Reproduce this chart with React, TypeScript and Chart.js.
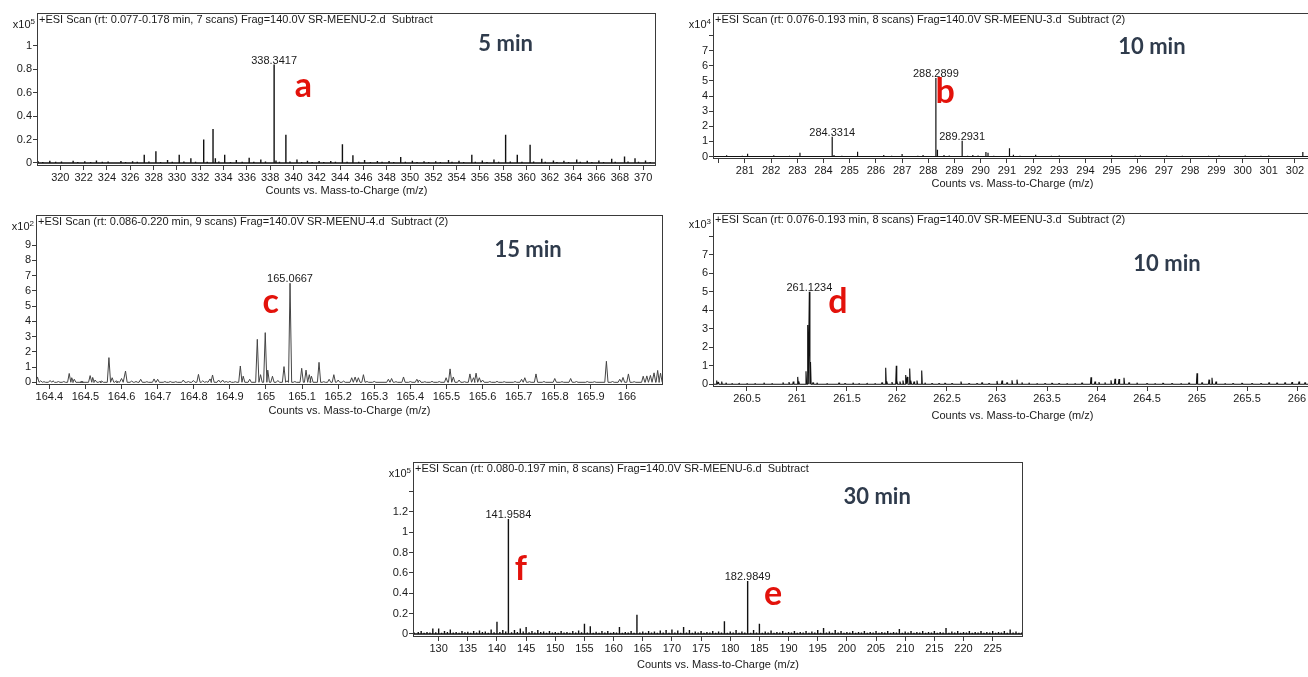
import React, { useEffect, useRef } from 'react';
import { Chart, registerables } from 'chart.js';

Chart.register(...registerables);

type Pair = [number, number];

const NARROW = '"Liberation Sans Narrow", "Arial Narrow", sans-serif';
const HEAD = 'Lato, "Open Sans", sans-serif';
const AXIS_TITLE = 'Counts vs. Mass-to-Charge (m/z)';

// ================= Panel a (5 min, x10^5) =================
const aHeader = '+ESI Scan (rt: 0.077-0.178 min, 7 scans) Frag=140.0V SR-MEENU-2.d  Subtract';
const aXTicks = [320, 322, 324, 326, 328, 330, 332, 334, 336, 338, 340, 342, 344, 346, 348, 350, 352, 354, 356, 358, 360, 362, 364, 366, 368, 370];
const aYTicks = [0, 0.2, 0.4, 0.6, 0.8, 1];
const aYLabels = ['0', '0.2', '0.4', '0.6', '0.8', '1'];
const aPeaks: Pair[] = [
  [327.2, 0.07], [328.2, 0.1], [329.2, 0.025], [330.2, 0.07], [331.2, 0.04], [332.3, 0.2], [333.1, 0.29], [333.3, 0.04],
  [334.1, 0.07], [335.1, 0.025], [336.2, 0.045], [337.2, 0.03], [338.3417, 0.84], [338.5, 0.02], [339.35, 0.24], [340.3, 0.03],
  [344.2, 0.16], [345.1, 0.065], [346.1, 0.025], [349.2, 0.05], [353.3, 0.025], [355.3, 0.07], [357.2, 0.03], [358.2, 0.24],
  [359.2, 0.07], [360.3, 0.155], [361.3, 0.035], [362.3, 0.02], [364.3, 0.03], [367.3, 0.035], [368.4, 0.055], [369.3, 0.04],
];
const aNoise: Pair[] = [
  [318.1, 0.015], [318.5, 0.008], [319.1, 0.018], [319.6, 0.01], [320.1, 0.012], [320.6, 0.007], [321.1, 0.018], [321.5, 0.009],
  [322.1, 0.014], [322.6, 0.008], [323.1, 0.02], [323.6, 0.01], [324.1, 0.013], [324.6, 0.007], [325.2, 0.016], [325.6, 0.009],
  [326.2, 0.014], [326.6, 0.01], [327.6, 0.012], [328.6, 0.009], [329.6, 0.01], [330.6, 0.012], [331.6, 0.011], [332.6, 0.01],
  [333.6, 0.012], [334.6, 0.009], [335.6, 0.011], [336.6, 0.01], [337.6, 0.012], [338.8, 0.01], [339.7, 0.012], [340.7, 0.009],
  [341.2, 0.018], [341.6, 0.009], [342.2, 0.016], [342.6, 0.008], [343.2, 0.017], [343.6, 0.01], [344.6, 0.011], [345.6, 0.01],
  [346.6, 0.009], [347.2, 0.016], [347.6, 0.01], [348.2, 0.017], [348.6, 0.008], [349.6, 0.01], [350.2, 0.018], [350.6, 0.009],
  [351.2, 0.014], [351.6, 0.008], [352.2, 0.015], [352.6, 0.009], [353.6, 0.01], [354.2, 0.018], [354.6, 0.009], [355.6, 0.011],
  [356.2, 0.02], [356.6, 0.009], [357.6, 0.01], [358.6, 0.012], [359.6, 0.01], [360.6, 0.012], [361.6, 0.01], [362.6, 0.009],
  [363.2, 0.018], [363.6, 0.009], [364.6, 0.01], [365.2, 0.018], [365.6, 0.008], [366.2, 0.02], [366.6, 0.009], [367.6, 0.011],
  [368.7, 0.012], [369.6, 0.01], [370.2, 0.02], [370.6, 0.009],
];
const aLabelled: Pair[] = [[338.3417, 0.84]];

// ================= Panel b (10 min, x10^4) =================
const bHeader = '+ESI Scan (rt: 0.076-0.193 min, 8 scans) Frag=140.0V SR-MEENU-3.d  Subtract (2)';
const bXTicks = [280, 281, 282, 283, 284, 285, 286, 287, 288, 289, 290, 291, 292, 293, 294, 295, 296, 297, 298, 299, 300, 301, 302];
const bXLabels = ['', '281', '282', '283', '284', '285', '286', '287', '288', '289', '290', '291', '292', '293', '294', '295', '296', '297', '298', '299', '300', '301', '302'];
const bYTicks = [0, 1, 2, 3, 4, 5, 6, 7, 8];
const bYLabels = ['0', '1', '2', '3', '4', '5', '6', '7', ''];
const bPeaks: Pair[] = [
  [280.3, 0.08], [281.1, 0.18], [282.1, 0.08], [283.1, 0.25], [284.3314, 1.3], [284.4, 0.1], [285.3, 0.32], [286.3, 0.1],
  [287.0, 0.16], [287.8, 0.1], [288.2899, 5.2], [288.35, 0.45], [288.6, 0.1], [289.2931, 1.05], [289.7, 0.1], [290.2, 0.3],
  [290.28, 0.25], [291.1, 0.55], [291.25, 0.12], [292.1, 0.12], [293.0, 0.06], [295.0, 0.08], [296.1, 0.07], [297.1, 0.07],
  [299.1, 0.07], [300.1, 0.07], [301.0, 0.06], [302.3, 0.3],
];
const bNoise: Pair[] = [
  [279.9, 0.04], [280.6, 0.03], [280.9, 0.05], [281.4, 0.03], [281.7, 0.04], [282.4, 0.03], [282.7, 0.05], [283.4, 0.03],
  [283.7, 0.04], [284.0, 0.03], [284.7, 0.05], [285.0, 0.03], [285.6, 0.04], [285.9, 0.03], [286.6, 0.05], [286.8, 0.04],
  [287.3, 0.03], [287.6, 0.05], [288.0, 0.04], [288.8, 0.06], [289.0, 0.04], [289.5, 0.05], [289.9, 0.06], [290.5, 0.05],
  [290.8, 0.04], [291.5, 0.05], [291.8, 0.04], [292.4, 0.03], [292.7, 0.05], [293.3, 0.03], [293.6, 0.04], [294.0, 0.03],
  [294.4, 0.04], [294.7, 0.03], [295.3, 0.04], [295.6, 0.03], [295.9, 0.05], [296.4, 0.03], [296.7, 0.04], [297.4, 0.03],
  [297.7, 0.05], [298.0, 0.03], [298.4, 0.04], [298.7, 0.05], [299.4, 0.03], [299.7, 0.04], [300.4, 0.03], [300.7, 0.05],
  [301.3, 0.03], [301.6, 0.04], [301.9, 0.03], [302.6, 0.04],
];
const bLabelled: Pair[] = [[288.2899, 5.2], [284.3314, 1.3], [289.2931, 1.05]];

// ================= Panel c (15 min, x10^2) =================
const cHeader = '+ESI Scan (rt: 0.086-0.220 min, 9 scans) Frag=140.0V SR-MEENU-4.d  Subtract (2)';
const cXTicks = [164.4, 164.5, 164.6, 164.7, 164.8, 164.9, 165, 165.1, 165.2, 165.3, 165.4, 165.5, 165.6, 165.7, 165.8, 165.9, 166];
const cYTicks = [0, 1, 2, 3, 4, 5, 6, 7, 8, 9];
const cYLabels = ['0', '1', '2', '3', '4', '5', '6', '7', '8', '9'];
const cPeaks: Pair[] = [
  [164.367, 0.35], [164.376, 0.1], [164.402, 0.12], [164.41, 0.1], [164.44, 0.05], [164.455, 0.58], [164.462, 0.3], [164.469, 0.2],
  [164.49, 0.05], [164.513, 0.44], [164.52, 0.32], [164.527, 0.15], [164.545, 0.08], [164.565, 1.62], [164.574, 0.3], [164.585, 0.1],
  [164.6, 0.25], [164.611, 0.74], [164.628, 0.08], [164.653, 0.2], [164.69, 0.22], [164.7, 0.2], [164.735, 0.05], [164.771, 0.15],
  [164.799, 0.12], [164.813, 0.52], [164.825, 0.1], [164.845, 0.22], [164.852, 0.48], [164.869, 0.15], [164.88, 0.15], [164.9, 0.06],
  [164.929, 1.07], [164.937, 0.4], [164.955, 0.2], [164.976, 2.82], [164.985, 0.5], [164.998, 3.26], [165.005, 0.8], [165.018, 0.4],
  [165.033, 0.12], [165.05, 1.03], [165.058, 0.1], [165.0667, 6.5], [165.099, 0.92], [165.111, 0.8], [165.12, 0.5], [165.126, 0.4],
  [165.147, 1.31], [165.175, 0.2], [165.188, 0.5], [165.2, 0.15], [165.215, 0.08], [165.2375, 0.3], [165.247, 0.35], [165.256, 0.3],
  [165.27, 0.5], [165.3, 0.06], [165.339, 0.2], [165.348, 0.25], [165.381, 0.35], [165.418, 0.2], [165.425, 0.15], [165.46, 0.06],
  [165.499, 0.3], [165.51, 0.88], [165.519, 0.35], [165.535, 0.15], [165.565, 0.55], [165.575, 0.3], [165.582, 0.6], [165.591, 0.3],
  [165.6, 0.15], [165.64, 0.06], [165.708, 0.2], [165.717, 0.3], [165.748, 0.55], [165.8, 0.25], [165.844, 0.25], [165.89, 0.05],
  [165.943, 1.38], [165.98, 0.2], [165.989, 0.32], [166.004, 0.55], [166.045, 0.4], [166.055, 0.42], [166.065, 0.45], [166.075, 0.62],
  [166.085, 0.78], [166.093, 0.6],
];
const cNoise: Pair[] = [
  [164.385, 0.04], [164.425, 0.05], [164.49, 0.04], [164.54, 0.05], [164.59, 0.04], [164.64, 0.05], [164.67, 0.04], [164.72, 0.05],
  [164.75, 0.04], [164.785, 0.05], [164.835, 0.04], [164.89, 0.05], [164.915, 0.04], [165.08, 0.05], [165.16, 0.04], [165.28, 0.05],
  [165.36, 0.04], [165.4, 0.05], [165.44, 0.04], [165.48, 0.05], [165.55, 0.04], [165.62, 0.05], [165.66, 0.04], [165.69, 0.05],
  [165.73, 0.04], [165.77, 0.05], [165.82, 0.04], [165.86, 0.05], [165.91, 0.04], [165.96, 0.05], [166.02, 0.04],
];
const cLabelled: Pair[] = [[165.0667, 6.5]];

// ================= Panel d (10 min, x10^3) =================
const dHeader = '+ESI Scan (rt: 0.076-0.193 min, 8 scans) Frag=140.0V SR-MEENU-3.d  Subtract (2)';
const dXTicks = [260.5, 261, 261.5, 262, 262.5, 263, 263.5, 264, 264.5, 265, 265.5, 266];
const dYTicks = [0, 1, 2, 3, 4, 5, 6, 7, 8];
const dYLabels = ['0', '1', '2', '3', '4', '5', '6', '7', ''];
const dPeaks: Pair[] = [
  [260.197, 0.2], [260.215, 0.12], [260.247, 0.15], [260.29, 0.08], [260.35, 0.06], [260.42, 0.07], [260.5, 0.05], [260.58, 0.06],
  [260.67, 0.08], [260.75, 0.05], [260.86, 0.1], [260.92, 0.12], [260.963, 0.15], [261.007, 0.4], [261.02, 0.15], [261.09, 0.7],
  [261.107, 3.2], [261.1234, 5.0], [261.135, 1.2], [261.16, 0.1], [261.2, 0.08], [261.3, 0.05], [261.42, 0.08], [261.48, 0.06],
  [261.56, 0.08], [261.62, 0.05], [261.7, 0.07], [261.78, 0.06], [261.85, 0.1], [261.887, 0.9], [261.9, 0.15], [261.95, 0.12],
  [261.993, 1.0], [262.0, 0.2], [262.03, 0.15], [262.06, 0.2], [262.087, 0.5], [262.103, 0.4], [262.127, 0.85], [262.14, 0.2],
  [262.17, 0.15], [262.2, 0.2], [262.247, 0.75], [262.28, 0.08], [262.35, 0.06], [262.42, 0.05], [262.48, 0.07], [262.55, 0.06],
  [262.64, 0.15], [262.72, 0.06], [262.8, 0.05], [262.85, 0.1], [262.92, 0.06], [263.0, 0.18], [263.05, 0.2], [263.1, 0.1],
  [263.15, 0.22], [263.2, 0.25], [263.25, 0.1], [263.32, 0.08], [263.4, 0.06], [263.48, 0.05], [263.55, 0.07], [263.62, 0.05],
  [263.7, 0.06], [263.78, 0.05], [263.85, 0.08], [263.94, 0.38], [263.98, 0.15], [264.02, 0.12], [264.08, 0.1], [264.14, 0.22],
  [264.18, 0.3], [264.22, 0.28], [264.27, 0.35], [264.32, 0.1], [264.4, 0.08], [264.5, 0.06], [264.58, 0.05], [264.66, 0.07],
  [264.75, 0.06], [264.84, 0.05], [264.92, 0.08], [265.0, 0.6], [265.05, 0.1], [265.12, 0.25], [265.15, 0.35], [265.19, 0.15],
  [265.28, 0.06], [265.36, 0.05], [265.45, 0.07], [265.55, 0.06], [265.64, 0.05], [265.72, 0.1], [265.8, 0.08], [265.88, 0.1],
  [265.95, 0.12], [266.02, 0.15], [266.08, 0.1], [266.13, 0.12],
];
const dNoise: Pair[] = [];
const dLabelled: Pair[] = [[261.1234, 5.0]];

// ================= Panel e/f (30 min, x10^5) =================
const eHeader = '+ESI Scan (rt: 0.080-0.197 min, 8 scans) Frag=140.0V SR-MEENU-6.d  Subtract';
const eXTicks = [130, 135, 140, 145, 150, 155, 160, 165, 170, 175, 180, 185, 190, 195, 200, 205, 210, 215, 220, 225];
const eYTicks = [0, 0.2, 0.4, 0.6, 0.8, 1, 1.2, 1.4];
const eYLabels = ['0', '0.2', '0.4', '0.6', '0.8', '1', '1.2', ''];
const ePeaks: Pair[] = [
  [127.0, 0.03], [129.0, 0.055], [130.0, 0.055], [131.0, 0.03], [132.0, 0.045], [134.0, 0.03], [136.0, 0.03], [137.0, 0.035],
  [139.0, 0.045], [140.0, 0.12], [141.0, 0.04], [141.9584, 1.13], [143.0, 0.04], [144.0, 0.055], [145.0, 0.07], [146.0, 0.03],
  [147.0, 0.04], [149.0, 0.03], [151.0, 0.03], [153.0, 0.03], [154.0, 0.035], [155.0, 0.1], [156.0, 0.075], [158.0, 0.03],
  [159.0, 0.03], [161.0, 0.07], [163.0, 0.03], [164.0, 0.19], [166.0, 0.03], [168.0, 0.035], [169.0, 0.04], [170.0, 0.045],
  [171.0, 0.035], [172.0, 0.07], [173.0, 0.04], [175.0, 0.03], [177.0, 0.03], [179.0, 0.125], [181.0, 0.04], [182.9849, 0.52],
  [184.0, 0.04], [185.0, 0.1], [187.0, 0.035], [189.0, 0.03], [191.0, 0.03], [193.0, 0.03], [195.0, 0.04], [196.0, 0.06],
  [198.0, 0.04], [199.0, 0.03], [201.0, 0.03], [203.0, 0.03], [205.0, 0.03], [207.0, 0.03], [209.0, 0.05], [211.0, 0.03],
  [213.0, 0.03], [215.0, 0.03], [217.0, 0.06], [219.0, 0.03], [221.0, 0.03], [223.0, 0.03], [225.0, 0.03], [227.0, 0.03],
  [228.0, 0.045],
];
const eNoise: Pair[] = [
  [125.8, 0.015], [126.5, 0.02], [127.5, 0.012], [128.0, 0.02], [128.5, 0.015], [129.5, 0.018], [130.5, 0.012], [131.5, 0.02],
  [132.5, 0.015], [133.0, 0.02], [133.5, 0.012], [134.5, 0.018], [135.0, 0.022], [135.5, 0.012], [136.5, 0.015], [137.5, 0.02],
  [138.0, 0.025], [138.5, 0.012], [139.5, 0.018], [140.5, 0.02], [141.5, 0.025], [142.5, 0.018], [143.5, 0.02], [144.5, 0.025],
  [145.5, 0.018], [146.5, 0.015], [147.5, 0.02], [148.0, 0.025], [148.5, 0.012], [149.5, 0.015], [150.0, 0.02], [150.5, 0.012],
  [151.5, 0.015], [152.0, 0.02], [152.5, 0.012], [153.5, 0.015], [154.5, 0.018], [155.5, 0.015], [156.5, 0.012], [157.0, 0.022],
  [157.5, 0.012], [158.5, 0.015], [159.5, 0.012], [160.0, 0.02], [160.5, 0.015], [161.5, 0.012], [162.0, 0.02], [162.5, 0.015],
  [163.5, 0.012], [164.5, 0.015], [165.0, 0.025], [165.5, 0.012], [166.5, 0.015], [167.0, 0.025], [167.5, 0.012], [168.5, 0.015],
  [169.5, 0.012], [170.5, 0.015], [171.5, 0.012], [172.5, 0.015], [173.5, 0.012], [174.0, 0.025], [174.5, 0.015], [175.5, 0.012],
  [176.0, 0.02], [176.5, 0.015], [177.5, 0.012], [178.0, 0.025], [178.5, 0.015], [179.5, 0.012], [180.0, 0.025], [180.5, 0.015],
  [181.5, 0.012], [182.0, 0.025], [182.5, 0.015], [183.5, 0.012], [184.5, 0.015], [185.5, 0.012], [186.0, 0.025], [186.5, 0.015],
  [187.5, 0.012], [188.0, 0.02], [188.5, 0.015], [189.5, 0.012], [190.0, 0.02], [190.5, 0.015], [191.5, 0.012], [192.0, 0.02],
  [192.5, 0.015], [193.5, 0.012], [194.0, 0.025], [194.5, 0.015], [195.5, 0.012], [196.5, 0.015], [197.0, 0.025], [197.5, 0.012],
  [198.5, 0.015], [199.5, 0.012], [200.0, 0.02], [200.5, 0.015], [201.5, 0.012], [202.0, 0.02], [202.5, 0.015], [203.5, 0.012],
  [204.0, 0.02], [204.5, 0.015], [205.5, 0.012], [206.0, 0.02], [206.5, 0.015], [207.5, 0.012], [208.0, 0.02], [208.5, 0.015],
  [209.5, 0.012], [210.0, 0.025], [210.5, 0.015], [211.5, 0.012], [212.0, 0.02], [212.5, 0.015], [213.5, 0.012], [214.0, 0.02],
  [214.5, 0.015], [215.5, 0.012], [216.0, 0.02], [216.5, 0.015], [217.5, 0.012], [218.0, 0.025], [218.5, 0.015], [219.5, 0.012],
  [220.0, 0.02], [220.5, 0.015], [221.5, 0.012], [222.0, 0.02], [222.5, 0.015], [223.5, 0.012], [224.0, 0.02], [224.5, 0.015],
  [225.5, 0.012], [226.0, 0.02], [226.5, 0.015], [227.5, 0.012], [228.5, 0.015], [229.0, 0.025], [229.5, 0.012], [230.0, 0.015],
];
const eLabelled: Pair[] = [[141.9584, 1.13], [182.9849, 0.52]];

// ================= layout / styling =================
const Y_AXIS_W = 34;
const PAD_TOP = 12;
const PAD_RIGHT = 4;

interface Spec {
  box: { left: number; top: number; right: number; bottom: number };
  axisH: number;
  xRange: Pair;
  yRange: Pair;
  xTicks: number[];
  xLabels: string[];
  yTicks: number[];
  yLabels: string[];
  peaks: Pair[];
  noise: Pair[];
  labelled: Pair[];
  halfWidth: number;
  lineColor: string;
  lineWidth: number;
  header: string;
  exponent: string;
  time: string;
  timeAt: Pair;
  letters: { text: string; at: Pair }[];
}

const SPECS: Spec[] = [
  {
    box: { left: 37, top: 13, right: 656, bottom: 166 }, axisH: 32,
    xRange: [318.0, 371.1], yRange: [-0.026, 1.28],
    xTicks: aXTicks, xLabels: aXTicks.map(String), yTicks: aYTicks, yLabels: aYLabels,
    peaks: aPeaks, noise: aNoise, labelled: aLabelled, halfWidth: 0, lineColor: '#111111', lineWidth: 1.4,
    header: aHeader, exponent: '5', time: '5 min', timeAt: [358.2, 0.957],
    letters: [{ text: 'a', at: [340.85, 0.56] }],
  },
  {
    box: { left: 713, top: 13, right: 1312, bottom: 159 }, axisH: 32,
    xRange: [279.78, 302.65], yRange: [-0.166, 9.5],
    xTicks: bXTicks, xLabels: bXLabels, yTicks: bYTicks, yLabels: bYLabels,
    peaks: bPeaks, noise: bNoise, labelled: bLabelled, halfWidth: 0, lineColor: '#111111', lineWidth: 1.2,
    header: bHeader, exponent: '4', time: '10 min', timeAt: [296.54, 6.79],
    letters: [{ text: 'b', at: [288.64, 3.54] }],
  },
  {
    box: { left: 36, top: 215, right: 663, bottom: 385 }, axisH: 33,
    xRange: [164.363, 166.0998], yRange: [-0.177, 10.98],
    xTicks: cXTicks, xLabels: cXTicks.map(String), yTicks: cYTicks, yLabels: cYLabels,
    peaks: cPeaks, noise: cNoise, labelled: cLabelled, halfWidth: 0.0045, lineColor: '#444444', lineWidth: 1,
    header: cHeader, exponent: '2', time: '15 min', timeAt: [165.726, 8.25],
    letters: [{ text: 'c', at: [165.013, 4.55] }],
  },
  {
    box: { left: 713, top: 213, right: 1312, bottom: 387 }, axisH: 36,
    xRange: [260.16, 266.15], yRange: [-0.146, 9.26],
    xTicks: dXTicks, xLabels: dXTicks.map(String), yTicks: dYTicks, yLabels: dYLabels,
    peaks: dPeaks, noise: dNoise, labelled: dLabelled, halfWidth: 0.006, lineColor: '#111111', lineWidth: 1.1,
    header: dHeader, exponent: '3', time: '10 min', timeAt: [264.7, 6.12],
    letters: [{ text: 'd', at: [261.41, 3.85] }],
  },
  {
    box: { left: 413, top: 462, right: 1023, bottom: 637 }, axisH: 35,
    xRange: [125.6, 230.2], yRange: [-0.0295, 1.691],
    xTicks: eXTicks, xLabels: eXTicks.map(String), yTicks: eYTicks, yLabels: eYLabels,
    peaks: ePeaks, noise: eNoise, labelled: eLabelled, halfWidth: 0, lineColor: '#111111', lineWidth: 1.4,
    header: eHeader, exponent: '5', time: '30 min', timeAt: [205.2, 1.28],
    letters: [{ text: 'f', at: [144.1, 0.53] }, { text: 'e', at: [187.35, 0.285] }],
  },
];

function profilePoints(spec: Spec) {
  const all = [...spec.peaks, ...spec.noise].sort((p, q) => p[0] - q[0]);
  const pts: { x: number; y: number }[] = [{ x: spec.xRange[0], y: 0 }];
  for (const [mz, v] of all) {
    pts.push({ x: mz - spec.halfWidth, y: 0 }, { x: mz, y: v }, { x: mz + spec.halfWidth, y: 0 });
  }
  pts.push({ x: spec.xRange[1], y: 0 });
  return pts;
}

function Panel({ spec }: { spec: Spec }) {
  const ref = useRef<HTMLCanvasElement>(null);
  const W = spec.box.right - spec.box.left + Y_AXIS_W + PAD_RIGHT;
  const H = spec.box.bottom - spec.box.top + PAD_TOP + spec.axisH;

  useEffect(() => {
    const canvas = ref.current;
    if (!canvas) return;
    const overlay = {
      id: 'msOverlay',
      afterDraw(chart: any) {
        const { ctx, chartArea: ca, scales } = chart;
        const xs = scales.x;
        const ys = scales.y;
        ctx.save();
        // frame
        ctx.strokeStyle = '#3a3a3a';
        ctx.lineWidth = 1;
        ctx.strokeRect(Math.round(ca.left) + 0.5, Math.round(ca.top) + 0.5, Math.round(ca.right - ca.left) - 1, Math.round(ca.bottom - ca.top) - 1);
        // header
        ctx.fillStyle = '#1a1a1a';
        ctx.font = `11px ${NARROW}`;
        ctx.textAlign = 'left';
        ctx.textBaseline = 'alphabetic';
        ctx.fillText(spec.header, ca.left + 2, ca.top + 10);
        // exponent label x10^n
        ctx.font = `8px ${NARROW}`;
        ctx.textAlign = 'right';
        const expW = ctx.measureText(spec.exponent).width;
        ctx.fillText(spec.exponent, ca.left - 2, ca.top + 11);
        ctx.font = `11px ${NARROW}`;
        ctx.fillText('x10', ca.left - 2 - expW, ca.top + 15);
        // peak labels
        ctx.textAlign = 'center';
        for (const [mz, v] of spec.labelled) {
          ctx.fillText(mz.toFixed(4), xs.getPixelForValue(mz), ys.getPixelForValue(v) - 1);
        }
        // time label
        ctx.font = `bold 22px ${HEAD}`;
        ctx.fillStyle = '#2f3b4c';
        ctx.fillText(spec.time, xs.getPixelForValue(spec.timeAt[0]), ys.getPixelForValue(spec.timeAt[1]));
        // red letters
        ctx.font = `bold 34px ${HEAD}`;
        ctx.fillStyle = '#e3120b';
        for (const l of spec.letters) {
          ctx.fillText(l.text, xs.getPixelForValue(l.at[0]), ys.getPixelForValue(l.at[1]));
        }
        ctx.restore();
      },
    };

    const tickFont = { family: NARROW, size: 11 };
    const chart = new Chart(canvas, {
      type: 'line',
      data: {
        datasets: [
          {
            data: profilePoints(spec),
            borderColor: spec.lineColor,
            borderWidth: spec.lineWidth,
            pointRadius: 0,
            tension: 0,
            fill: false,
            borderJoinStyle: 'bevel',
          },
        ],
      },
      options: {
        animation: false,
        responsive: false,
        maintainAspectRatio: false,
        events: [],
        layout: { padding: { top: PAD_TOP, right: PAD_RIGHT, left: 0, bottom: 0 } },
        plugins: { legend: { display: false }, tooltip: { enabled: false }, title: { display: false } },
        scales: {
          x: {
            type: 'linear',
            position: 'bottom',
            min: spec.xRange[0],
            max: spec.xRange[1],
            afterBuildTicks: (s: any) => {
              s.ticks = spec.xTicks.map((v) => ({ value: v }));
            },
            afterFit: (s: any) => {
              s.height = spec.axisH;
            },
            ticks: {
              autoSkip: false,
              maxRotation: 0,
              minRotation: 0,
              padding: 1,
              color: '#1a1a1a',
              font: tickFont,
              callback: (_v: any, i: number) => spec.xLabels[i],
            },
            grid: { display: true, drawOnChartArea: false, drawTicks: true, tickLength: 4, color: '#3a3a3a' },
            border: { display: false },
            title: { display: true, text: AXIS_TITLE, color: '#1a1a1a', font: tickFont, padding: 0 },
          },
          y: {
            type: 'linear',
            min: spec.yRange[0],
            max: spec.yRange[1],
            afterBuildTicks: (s: any) => {
              s.ticks = spec.yTicks.map((v) => ({ value: v }));
            },
            afterFit: (s: any) => {
              s.width = Y_AXIS_W;
            },
            ticks: {
              autoSkip: false,
              padding: 1,
              color: '#1a1a1a',
              font: tickFont,
              callback: (_v: any, i: number) => spec.yLabels[i],
            },
            grid: { display: true, drawOnChartArea: false, drawTicks: true, tickLength: 4, color: '#3a3a3a' },
            border: { display: false },
          },
        },
      } as any,
      plugins: [overlay],
    });
    return () => chart.destroy();
  }, [spec]);

  return (
    <canvas
      ref={ref}
      width={W}
      height={H}
      style={{ position: 'absolute', left: spec.box.left - Y_AXIS_W, top: spec.box.top - PAD_TOP, width: W, height: H }}
    />
  );
}

export default function App() {
  return (
    <div style={{ position: 'fixed', left: 0, top: 0, width: 1308, height: 677, overflow: 'hidden', background: '#fff' }}>
      {SPECS.map((s, i) => (
        <Panel key={i} spec={s} />
      ))}
    </div>
  );
}
